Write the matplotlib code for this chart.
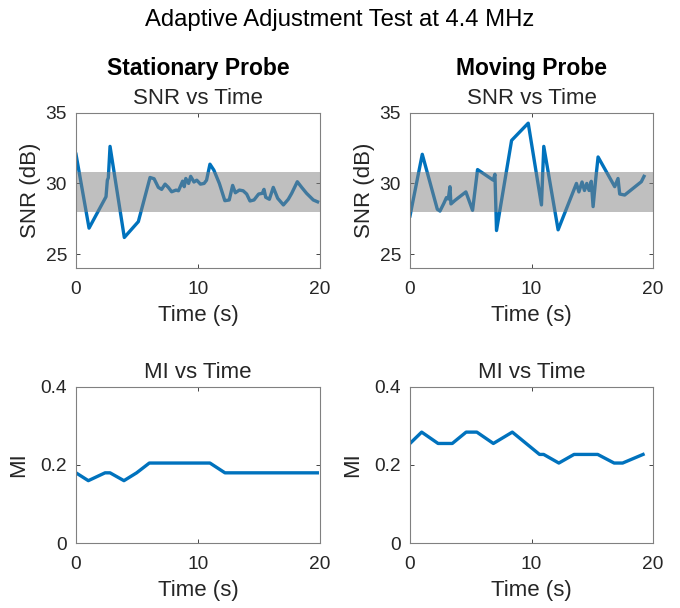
import matplotlib
matplotlib.use('Agg')
import matplotlib.pyplot as plt

plt.rcParams['font.family'] = ['Liberation Sans', 'DejaVu Sans']

# Stationary probe: SNR (dB) vs time (s)
stat_t = [0, 1.07, 2.46, 2.57, 2.65, 2.79, 3.96, 5.11, 6.07, 6.4, 6.75, 7.02, 7.3,
          7.57, 7.84, 8.2, 8.4, 8.6, 8.74, 8.87, 9.0, 9.23, 9.4, 9.67, 9.9, 10.2,
          10.5, 10.7, 10.98, 11.3, 11.75, 12.2, 12.56, 12.84, 13.06, 13.39, 13.7,
          13.99, 14.26, 14.59, 14.97, 15.27, 15.41, 15.55, 15.85, 16.17, 16.53,
          17.0, 17.4, 17.68, 18.14, 18.5, 18.9, 19.18, 19.45, 19.8]
stat_snr = [32.06, 26.84, 29.06, 30.23, 30.4, 32.62, 26.18, 27.3, 30.42, 30.33,
            29.72, 29.58, 29.95, 29.72, 29.41, 29.53, 29.48, 29.88, 30.16, 29.77,
            30.35, 30.0, 30.5, 30.1, 30.23, 29.95, 30.0, 30.23, 31.36, 30.94, 30.0,
            28.78, 28.83, 29.86, 29.34, 29.53, 29.48, 29.25, 28.76, 28.83, 29.25,
            29.3, 29.58, 29.02, 28.88, 29.72, 28.95, 28.48, 28.88, 29.3, 30.12,
            29.72, 29.3, 29.06, 28.83, 28.7]

# Moving probe: SNR (dB) vs time (s)
mov_t = [0, 1.01, 2.25, 2.47, 2.79, 3.0, 3.15, 3.29, 3.37, 3.7, 4.6, 5.15, 5.56,
         6.85, 6.99, 7.12, 8.36, 9.73, 10.82, 11.01, 12.19, 13.7, 13.9, 14.16,
         14.36, 14.55, 14.74, 14.92, 15.07, 15.29, 15.48, 16.85, 17.12, 17.26,
         17.67, 19.04, 19.26]
mov_snr = [27.7, 32.06, 28.17, 28.05, 28.6, 29.0, 28.9, 29.77, 28.55, 28.8, 29.4,
           28.1, 30.98, 30.23, 30.65, 26.67, 33.04, 34.26, 28.48, 32.62, 26.72,
           30.0, 29.4, 30.1, 29.5, 30.0, 29.5, 30.15, 28.36, 30.35, 31.87, 29.77,
           30.35, 29.25, 29.18, 30.12, 30.5]

# MI vs time (s)
stat_mi_t = [0, 1.01, 2.38, 2.79, 3.93, 4.97, 6.01, 10.98, 12.21, 19.78]
stat_mi = [0.18, 0.16, 0.18, 0.18, 0.16, 0.18, 0.205, 0.205, 0.18, 0.18]
mov_mi_t = [0, 0.96, 2.31, 3.48, 4.62, 5.5, 6.86, 8.42, 10.66, 11.0, 12.25, 13.5,
            15.45, 16.8, 17.5, 19.18]
mov_mi = [0.255, 0.284, 0.255, 0.255, 0.284, 0.284, 0.255, 0.284, 0.227, 0.227,
          0.205, 0.227, 0.227, 0.205, 0.205, 0.227]

target_band = [28.0, 30.8]
snr_ticks = [25, 30, 35]
mi_ticks = [0, 0.2, 0.4]
mi_ticklabels = ['0', '0.2', '0.4']
time_ticks = [0, 10, 20]

line_c = '#0072BD'
txt_c = '#262626'
box_c = '#808080'

fig = plt.figure(figsize=(6.8, 6.08), dpi=100)
W, H = 680.0, 608.0


def make_ax(x0, x1, y0, y1):
    ax = fig.add_axes([x0 / W, 1 - y1 / H, (x1 - x0) / W, (y1 - y0) / H])
    for s in ax.spines.values():
        s.set_color(box_c)
        s.set_linewidth(0.8)
    ax.tick_params(direction='in', length=3, width=0.6, color=txt_c,
                   top=True, right=True, labelsize=13.8, labelcolor=txt_c)
    ax.tick_params(axis='x', pad=9.4)
    ax.tick_params(axis='y', pad=6.5)
    ax.set_xlim(0, 20)
    ax.set_xticks(time_ticks)
    ax.set_xlabel('Time (s)', fontsize=16, color=txt_c, labelpad=5)
    return ax


def add_title(ax, text, offset, bold=False):
    ax.annotate(text, xy=(0.5, 1), xycoords='axes fraction',
                xytext=(0, offset), textcoords='offset points',
                ha='center', va='baseline',
                fontsize=16.5 if bold else 16,
                fontweight='bold' if bold else 'normal',
                color='black' if bold else txt_c)


panels = [
    (76, 320, stat_t, stat_snr, 'Stationary Probe'),
    (410, 653, mov_t, mov_snr, 'Moving Probe'),
]
for x0, x1, t, snr, name in panels:
    ax = make_ax(x0, x1, 112.7, 268.3)
    ax.plot(t, snr, color=line_c, lw=2.4, zorder=2)
    ax.axhspan(target_band[0], target_band[1], color='0.5', alpha=0.5, lw=0, zorder=3)
    ax.set_ylim(24, 35)
    ax.set_yticks(snr_ticks)
    ax.set_ylabel('SNR (dB)', fontsize=16, color=txt_c, labelpad=3.5)
    add_title(ax, 'SNR vs Time', 6.3)
    add_title(ax, name, 27.1, bold=True)

for x0, x1, t, mi in [(76, 320, stat_mi_t, stat_mi), (410, 653, mov_mi_t, mov_mi)]:
    ax = make_ax(x0, x1, 386.7, 543.3)
    ax.plot(t, mi, color=line_c, lw=2.4)
    ax.set_ylim(0, 0.4)
    ax.set_yticks(mi_ticks)
    ax.set_yticklabels(mi_ticklabels)
    ax.set_ylabel('MI', fontsize=16, color=txt_c, labelpad=8)
    add_title(ax, 'MI vs Time', 6.0)

fig.text(0.5, 1 - 26 / H, 'Adaptive Adjustment Test at 4.4 MHz', ha='center',
         va='baseline', fontsize=17.2, color='black')

fig.savefig('out.png', dpi=100)
